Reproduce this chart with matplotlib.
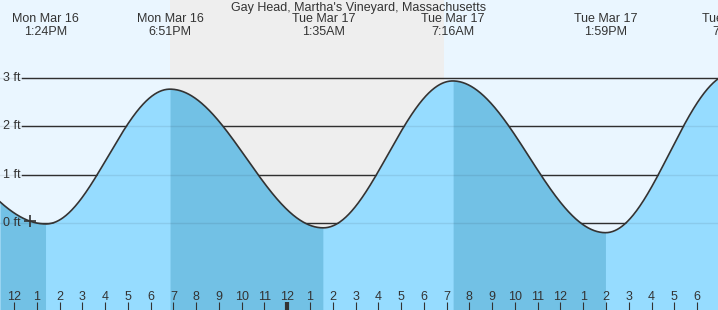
import numpy as np
import matplotlib
matplotlib.use('Agg')
import matplotlib.pyplot as plt
import matplotlib.transforms as mtransforms

# hours counted from Mon Mar 16 12:00 PM
extreme_hours = [-5.55, 1.4, 6.85, 13.583, 19.267, 25.983, 31.6]
extreme_heights = [2.35, -0.02, 2.77, -0.1, 2.94, -0.2, 3.1]
extreme_is_high = [True, False, True, False, True, False, True]

event_hours = [1.4, 6.85, 13.583, 19.267, 25.983, 31.6]
event_days = ['Mon Mar 16', 'Mon Mar 16', 'Tue Mar 17', 'Tue Mar 17', 'Tue Mar 17', 'Tue Mar 17']
event_times = ['1:24PM', '6:51PM', '1:35AM', '7:16AM', '1:59PM', '7:36PM']

sunset_hour = 6.85
sunrise_hour = 18.88
now_hour = 0.7

hour_ticks = list(range(0, 31))
hour_labels = ['12', '1', '2', '3', '4', '5', '6', '7', '8', '9', '10', '11',
               '12', '1', '2', '3', '4', '5', '6', '7', '8', '9', '10', '11',
               '12', '1', '2', '3', '4', '5', '6']
midnight_hour = 12

ft_levels = [0, 1, 2, 3]
ft_labels = ['0 ft', '1 ft', '2 ft', '3 ft']

title = "Gay Head, Martha's Vineyard, Massachusetts"

DAY = '#EAF6FF'
NIGHT = '#EEEEEE'
RISE = '#96DCFF'
FALL = '#72C1E5'
INK = '#333333'

plt.rcParams['font.family'] = ['Liberation Sans', 'DejaVu Sans']

x0, x1 = -0.615, 30.92
y0, y1 = -1.80, 4.615

# tide curve: cosine between successive extremes
hours = np.linspace(x0, x1, 1500)
heights = np.zeros_like(hours)
for i in range(len(extreme_hours) - 1):
    ta, tb = extreme_hours[i], extreme_hours[i + 1]
    ha, hb = extreme_heights[i], extreme_heights[i + 1]
    m = (hours >= ta) & (hours <= tb)
    t = (hours[m] - ta) / (tb - ta)
    heights[m] = hb + (ha - hb) * (1 + np.cos(np.pi * t)) / 2

fig = plt.figure(figsize=(7.18, 3.10), dpi=100)
ax = fig.add_axes([0, 0, 1, 1])
ax.set_xlim(x0, x1)
ax.set_ylim(y0, y1)
ax.set_facecolor(DAY)
ax.set_axisbelow(False)
for s in ax.spines.values():
    s.set_visible(False)

ax.axvspan(sunset_hour, sunrise_hour, color=NIGHT, zorder=0, lw=0)

for lvl in ft_levels:
    ax.axhline(lvl, xmin=0.031, xmax=1, color=INK, lw=1.0, zorder=1)

# water fill, darker while falling
ax.fill_between(hours, y0, heights, color=RISE, lw=0, zorder=2)
for i in range(len(extreme_hours) - 1):
    if not extreme_is_high[i]:
        continue
    ta, tb = extreme_hours[i], extreme_hours[i + 1]
    m = (hours >= ta) & (hours <= tb)
    ax.fill_between(hours[m], y0, heights[m], color=FALL, lw=0, zorder=2)

for lvl in ft_levels:
    ax.axhline(lvl, color='#000000', alpha=0.08, lw=1.0, zorder=3)

ax.plot(hours, heights, color=INK, lw=1.2, zorder=4)

now_h = np.interp(now_hour, hours, heights)
ax.plot([now_hour], [now_h], marker='+', ms=9, mew=1.2, color=INK, zorder=5)

px_data = mtransforms.blended_transform_factory(mtransforms.IdentityTransform(), ax.transData)
for lvl, lab in zip(ft_levels, ft_labels):
    ax.text(3, lvl, lab, transform=px_data, ha='left', va='center',
            fontsize=9, color=INK, zorder=6)

ax.text(0.5, 1 - 7.5 / 310, title, transform=ax.transAxes, ha='center',
        va='center', fontsize=9, color=INK)
for h, d, t in zip(event_hours, event_days, event_times):
    ax.text(h, 1 - 19.5 / 310, d, transform=ax.get_xaxis_transform(),
            ha='center', va='center', fontsize=9, color=INK, clip_on=False)
    ax.text(h, 1 - 32 / 310, t, transform=ax.get_xaxis_transform(),
            ha='center', va='center', fontsize=9, color=INK, clip_on=False)

ax.set_yticks([])
ax.set_xticks(hour_ticks)
ax.set_xticklabels(hour_labels, fontsize=9, color=INK)
ax.tick_params(axis='x', direction='in', length=5.5, width=0.8, color=INK,
               pad=-13.5, bottom=True)
for tk, h in zip(ax.xaxis.get_major_ticks(), hour_ticks):
    if h == midnight_hour:
        tk.tick1line.set_markeredgewidth(3)

fig.savefig('out.png', dpi=100)
